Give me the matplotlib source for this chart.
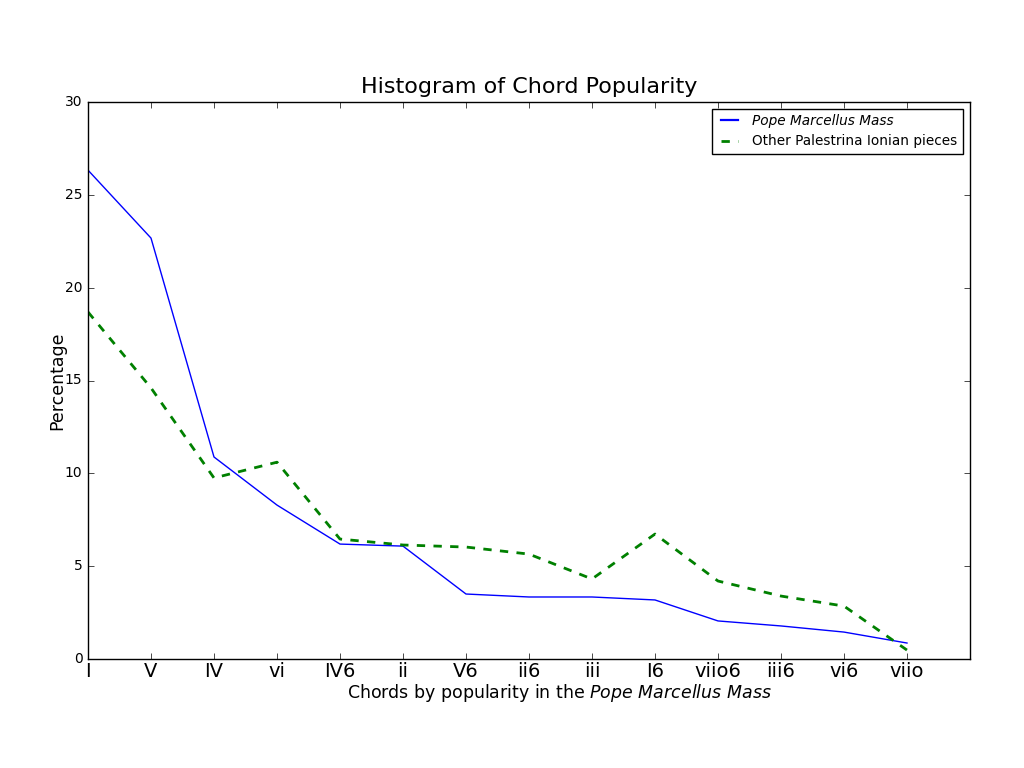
import matplotlib
matplotlib.use('Agg')
import matplotlib.pyplot as plt

plt.style.use('classic')
plt.rcParams['mathtext.fontset'] = 'dejavusans'

chords = ['I', 'V', 'IV', 'vi', 'IV6', 'ii', 'V6', 'ii6', 'iii', 'I6',
          'viio6', 'iii6', 'vi6', 'viio']
pope = [26.33, 22.67, 10.88, 8.29, 6.19, 6.08, 3.50, 3.34, 3.34, 3.18,
        2.05, 1.78, 1.45, 0.86]
others = [18.69, 14.60, 9.75, 10.60, 6.46, 6.14, 6.03, 5.65, 4.31, 6.73,
          4.20, 3.39, 2.85, 0.48]

fig = plt.figure(figsize=(10.24, 7.68), dpi=100)
fig.patch.set_facecolor('white')
ax = fig.add_axes([88/1024, 1-659/768, (970-88)/1024, (659-102)/768])

x = range(len(chords))
ax.plot(x, pope, color='b', linewidth=1.0, label='Pope Marcellus Mass')
ax.plot(x, others, color='g', linestyle='--', linewidth=2.0,
        label='Other Palestrina Ionian pieces')

ax.set_xlim(0, 14)
ax.set_ylim(0, 30)
ax.set_xticks(list(x))
ax.set_xticklabels(chords, fontsize=14)
ax.set_yticks([0, 5, 10, 15, 20, 25, 30])
ax.tick_params(axis='y', labelsize=10)
ax.tick_params(axis='x', pad=2)

ax.set_title('Histogram of Chord Popularity', fontsize=16, y=1.003)
ax.set_ylabel('Percentage', fontsize=12.5, labelpad=-1)
ax.set_xlabel('Chords by popularity in the $\\it{Pope\\ Marcellus\\ Mass}$',
              fontsize=12.5, labelpad=1, x=0.535)

leg = ax.legend(loc='upper right', fontsize=9.8, handlelength=1.8,
                labelspacing=0.45)
leg.get_texts()[0].set_fontstyle('italic')
leg.get_lines()[0].set_linewidth(1.6)

fig.savefig('out.png', dpi=100, facecolor='white')
